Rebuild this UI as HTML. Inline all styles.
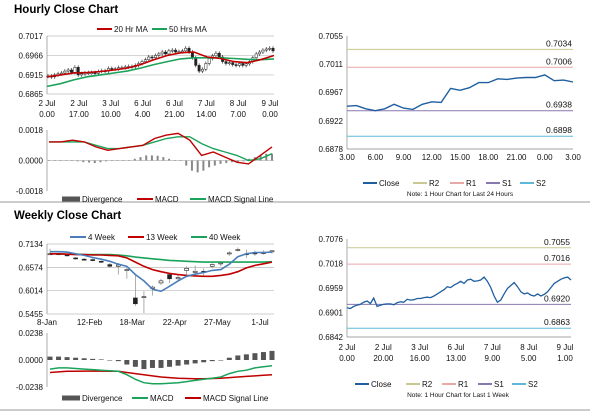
<!DOCTYPE html>
<html><head><meta charset="utf-8"><style>
body{margin:0;background:#fff;font-family:"Liberation Sans",Arial,sans-serif;}
svg text{font-family:"Liberation Sans",Arial,sans-serif;}
</style></head><body>
<svg id="c" width="600" height="413" xmlns="http://www.w3.org/2000/svg">
<text x="14" y="13" font-size="11.5" font-weight="bold" fill="#000">Hourly Close Chart</text>
<text x="14" y="219" font-size="11.5" font-weight="bold" fill="#000">Weekly Close Chart</text>
<line x1="0" y1="202" x2="590" y2="202" stroke="#999" stroke-width="1"/>
<line x1="0" y1="410" x2="590" y2="410" stroke="#999" stroke-width="1"/>
</svg>
<script>
// ---- data ----
const hourlyClose=[0.6912,0.6910,0.6915,0.6918,0.6920,0.6925,0.6928,0.6922,0.6935,0.6915,0.6918,0.6920,0.6921,0.6921,0.6919,0.6924,0.6926,0.6925,0.6932,0.6930,0.6931,0.6934,0.6934,0.6936,0.6937,0.6936,0.6940,0.6945,0.6950,0.6955,0.6962,0.6960,0.6966,0.6970,0.6975,0.6970,0.6978,0.6980,0.6975,0.6976,0.6978,0.6985,0.6975,0.6960,0.6940,0.6925,0.6930,0.6945,0.6958,0.6965,0.6972,0.6962,0.6950,0.6945,0.6947,0.6942,0.6940,0.6945,0.6940,0.6944,0.6950,0.6960,0.6970,0.6975,0.6980,0.6983,0.6985,0.6978];
const hourlyMA20=[0.6910,0.6915,0.6920,0.6921,0.6924,0.6928,0.6933,0.6942,0.6955,0.6966,0.6973,0.6975,0.6962,0.6958,0.6950,0.6947,0.6955,0.6966];
const hourlyMA50=[0.6885,0.6892,0.6902,0.6910,0.6915,0.6920,0.6925,0.6933,0.6942,0.6950,0.6957,0.6960,0.6960,0.6960,0.6958,0.6956,0.6955,0.6957];
const hourlyXLabels=[["2 Jul","0.00"],["2 Jul","17.00"],["3 Jul","10.00"],["6 Jul","4.00"],["6 Jul","21.00"],["7 Jul","14.00"],["8 Jul","7.00"],["9 Jul","0.00"]];
const hourlyTicks=[0.7017,0.6966,0.6915,0.6865];
const hMacd=[0.0011,0.0011,0.0012,0.0011,0.0008,0.0006,0.0007,0.0008,0.0009,0.0013,0.0015,0.0016,0.0012,0.0003,0.0005,0.0002,-0.0001,-0.0002,0.0003,0.0008];
const hSignal=[0.0011,0.0011,0.0011,0.0011,0.0009,0.0007,0.0007,0.0008,0.0009,0.0011,0.0013,0.0014,0.0014,0.0010,0.0007,0.0005,0.0003,0.0000,0.0001,0.0004];
const hDiv=[0.00003,0.00003,0.00003,0.00003,0.00003,-0.00005,-0.0001,-0.00012,-0.00015,-0.0001,-0.00005,0,0,0,0,0.0001,0.0002,0.0003,0.0003,0.00028,0.0002,0.0001,0,0,-0.0003,-0.0006,-0.0007,-0.0006,-0.0004,-0.0003,-0.0002,-0.00015,-0.0001,-0.0001,-0.00005,0.0001,0.0002,0.0003,0.0004,0.0004];
const hMacdTicks=[0.0018,0.0000,-0.0018];
const dayClose=[0.6945,0.6946,0.6941,0.6938,0.6941,0.6948,0.6942,0.6940,0.6948,0.6952,0.6951,0.6973,0.6970,0.6974,0.6982,0.6982,0.6988,0.6987,0.6989,0.6990,0.6990,0.6994,0.6985,0.6986,0.6983];
const dayLevels=[0.7034,0.7006,0.6938,0.6898];
const dayTicks=[0.7055,0.7011,0.6967,0.6922,0.6878];
const dayXLabels=["3.00","6.00","9.00","12.00","15.00","18.00","21.00","0.00","3.00"];
const wkOpen=[0.690,0.690,0.688,0.680,0.677,0.676,0.672,0.664,0.660,0.650,0.584,0.585,0.607,0.620,0.640,0.630,0.650,0.645,0.648,0.660,0.667,0.690,0.698,0.688,0.692,0.693,0.695];
const wkClose=[0.690,0.689,0.685,0.678,0.676,0.675,0.670,0.660,0.663,0.652,0.570,0.587,0.610,0.625,0.630,0.633,0.655,0.648,0.645,0.664,0.668,0.692,0.700,0.690,0.690,0.692,0.697];
const wkHigh=[0.702,0.692,0.690,0.682,0.680,0.679,0.674,0.668,0.668,0.656,0.640,0.600,0.614,0.630,0.645,0.640,0.660,0.662,0.655,0.667,0.671,0.696,0.705,0.700,0.698,0.698,0.699];
const wkLow=[0.688,0.687,0.683,0.676,0.674,0.672,0.668,0.656,0.640,0.630,0.565,0.548,0.590,0.615,0.620,0.625,0.640,0.635,0.637,0.655,0.660,0.685,0.695,0.680,0.685,0.688,0.690];
const wk4=[0.695,0.695,0.694,0.690,0.686,0.681,0.677,0.672,0.665,0.660,0.640,0.625,0.605,0.600,0.612,0.625,0.636,0.641,0.645,0.650,0.652,0.665,0.683,0.690,0.693,0.693,0.694];
const wk13=[0.690,0.690,0.689,0.688,0.688,0.687,0.687,0.686,0.685,0.680,0.670,0.660,0.652,0.647,0.643,0.640,0.638,0.637,0.636,0.636,0.638,0.641,0.647,0.656,0.662,0.666,0.670];
const wk40=[0.690,0.690,0.689,0.689,0.688,0.688,0.688,0.688,0.687,0.685,0.682,0.680,0.678,0.676,0.674,0.673,0.672,0.671,0.670,0.670,0.670,0.670,0.670,0.670,0.670,0.670,0.671];
const wkXLabels=["8-Jan","12-Feb","18-Mar","22-Apr","27-May","1-Jul"];
const wkTicks=[0.7134,0.6574,0.6014,0.5455];
const wDiv=[0.003,0.003,0.0025,0.002,0.0015,0.001,0.0005,0,-0.001,-0.004,-0.006,-0.008,-0.007,-0.007,-0.006,-0.005,-0.004,-0.003,-0.002,-0.001,0,0.002,0.004,0.005,0.006,0.007,0.008];
const wMacd=[-0.008,-0.007,-0.007,-0.0075,-0.008,-0.0085,-0.009,-0.0095,-0.010,-0.013,-0.017,-0.020,-0.021,-0.021,-0.0205,-0.020,-0.019,-0.018,-0.017,-0.016,-0.015,-0.012,-0.010,-0.009,-0.007,-0.006,-0.005];
const wSignal=[-0.011,-0.0105,-0.010,-0.010,-0.0098,-0.0098,-0.0098,-0.010,-0.010,-0.011,-0.012,-0.013,-0.014,-0.015,-0.0155,-0.016,-0.0163,-0.0165,-0.0165,-0.0163,-0.016,-0.0155,-0.015,-0.0145,-0.014,-0.0135,-0.013];
const wMacdTicks=[0.0238,0.0000,-0.0238];
const weekLevels=[0.7055,0.7016,0.6920,0.6863];
const weekTicks=[0.7076,0.7018,0.6959,0.6901,0.6842];
const weekXLabels=[["2 Jul","0.00"],["2 Jul","20.00"],["3 Jul","16.00"],["6 Jul","13.00"],["7 Jul","9.00"],["8 Jul","5.00"],["9 Jul","1.00"]];

// ---- helpers ----
const svg=document.getElementById('c');
const NS='http://www.w3.org/2000/svg';
function mk(tag,attrs,name,parent){const e=document.createElementNS(NS,tag);for(const k in attrs)e.setAttribute(k,attrs[k]);


(parent||svg).appendChild(e);return e;}
function txt(x,y,s,size,anchor,name,fill){const t=mk('text',{x:x,y:y,'font-size':size||8,'text-anchor':anchor||'middle',fill:fill||'#111'},name);t.textContent=s;return t;}
function lin(d0,d1,r0,r1){return v=>r0+(v-d0)/(d1-d0)*(r1-r0);}
function poly(xs,ys,arr,color,w,name){let p=arr.map((v,i)=>xs(i).toFixed(1)+','+ys(v).toFixed(1)).join(' ');return mk('polyline',{points:p,fill:'none',stroke:color,'stroke-width':w||1.5},name);}
function yaxis(x0,x1,ys,ticks,name,grid){ticks.forEach(t=>{const y=ys(t);if(grid)mk('line',{x1:x0,x2:x1,y1:y,y2:y,stroke:'#bbb','stroke-width':0.7},name+'-grid');txt(x0-4,y+3,t.toFixed(4),8,'end',name+'-tick');});mk('line',{x1:x0,x2:x0,y1:ys(ticks[0]),y2:ys(ticks[ticks.length-1]),stroke:'#888','stroke-width':0.7},name+'-axis');}
function legendLine(x,y,color,label,name,w){mk('line',{x1:x,x2:x+(w||16),y1:y,y2:y,stroke:color,'stroke-width':2},name+'-swatch');txt(x+(w||16)+2,y+3,label,8,'start',name);}
function legendBar(x,y,label,name){mk('rect',{x:x,y:y-2.5,width:18,height:5,fill:'#555'},name+'-swatch');txt(x+20,y+3,label,8,'start',name);}

// ---- Hourly candle chart ----
{const ys=lin(0.6865,0.7017,94,36);const xs=lin(0,hourlyClose.length-1,48,273);
yaxis(47,274,ys,hourlyTicks,'hourly-y',true);
hourlyClose.forEach((c,i)=>{const o=i?hourlyClose[i-1]:c;const x=xs(i);const hi=Math.max(o,c),lo=Math.min(o,c);
mk('line',{x1:x,x2:x,y1:ys(hi)-2,y2:ys(lo)+2,stroke:'#333','stroke-width':0.7},'hourly-wick');
mk('rect',{x:x-1.2,y:ys(hi),width:2.4,height:Math.max(1,ys(lo)-ys(hi)),fill:c>=o?'#fff':'#222',stroke:'#222','stroke-width':0.5},'hourly-candle');});
const mx=lin(0,hourlyMA20.length-1,47,274);
poly(mx,ys,hourlyMA50,'#1aa35a',1.6,'ma50-line');poly(mx,ys,hourlyMA20,'#c00000',1.6,'ma20-line');
const lx=lin(0,7,47,270);hourlyXLabels.forEach((l,i)=>{txt(lx(i),106,l[0],8,'middle','hourly-x-label');txt(lx(i),117,l[1],8,'middle','hourly-x-label');});
legendLine(97,29,'#c00000','20 Hr MA','legend-ma20',15);legendLine(152,29,'#1aa35a','50 Hrs MA','legend-ma50',15);
const my=lin(-0.0018,0.0018,191,130);yaxis(47,274,my,hMacdTicks,'hmacd-y',false);
mk('line',{x1:47,x2:274,y1:my(0),y2:my(0),stroke:'#bbb','stroke-width':0.7},'hmacd-zero');
const dx=lin(0,hDiv.length-1,49,272);
hDiv.forEach((v,i)=>{mk('rect',{x:dx(i)-1,y:Math.min(my(0),my(v)),width:2,height:Math.max(0.5,Math.abs(my(v)-my(0))),fill:'#888'},'hmacd-divergence-bar');});
const bx=lin(0,hMacd.length-1,49,272);
poly(bx,my,hSignal,'#1aa35a',1.4,'hmacd-signal-line');poly(bx,my,hMacd,'#c00000',1.4,'hmacd-line');
legendBar(62,199,'Divergence','legend-divergence');legendLine(137,199,'#c00000','MACD','legend-macd',16);legendLine(190,199,'#1aa35a','MACD Signal Line','legend-signal',16);}

// ---- 24h chart ----
{const ys=lin(0.6878,0.7055,149,36);const xs=lin(0,dayClose.length-1,347,573);
yaxis(347,573,ys,dayTicks,'day-y',false);
mk('line',{x1:347,x2:573,y1:149,y2:149,stroke:'#888','stroke-width':0.7},'day-x-axis');
const cols=['#c8c890','#e8a8a8','#8878b0','#60b8d8'];
dayLevels.forEach((l,i)=>{mk('line',{x1:347,x2:573,y1:ys(l),y2:ys(l),stroke:cols[i],'stroke-width':1},'day-level-line');txt(572,ys(l)-3,l.toFixed(4),8.5,'end','day-level-label');});
poly(xs,ys,dayClose,'#1f5f9f',1.4,'day-close-line');
const lx=lin(0,8,347,573);dayXLabels.forEach((l,i)=>txt(lx(i),160,l,8,'middle','day-x-label'));
legendLine(363,183,'#1f5f9f','Close','legend-close',14);legendLine(413,183,cols[0],'R2','legend-r2',14);legendLine(450,183,cols[1],'R1','legend-r1',14);legendLine(486,183,cols[2],'S1','legend-s1',14);legendLine(520,183,cols[3],'S2','legend-s2',14);
txt(460,196,'Note: 1 Hour Chart for Last 24 Hours',6.5,'middle','day-note');}

// ---- Weekly candle chart ----
{const ys=lin(0.5455,0.7134,314,244);const xs=lin(0,wkClose.length-1,50,272);
yaxis(47,274,ys,wkTicks,'weekly-y',true);
wkClose.forEach((c,i)=>{const o=wkOpen[i];const x=xs(i);
mk('line',{x1:x,x2:x,y1:ys(wkHigh[i]),y2:ys(wkLow[i]),stroke:'#999','stroke-width':0.8},'weekly-wick');
const hi=Math.max(o,c),lo=Math.min(o,c);
mk('rect',{x:x-2,y:ys(hi),width:4,height:Math.max(1,ys(lo)-ys(hi)),fill:c>=o?'#fff':'#222',stroke:'#222','stroke-width':0.6},'weekly-candle');});
poly(xs,ys,wk40,'#1aa35a',1.6,'wk40-line');poly(xs,ys,wk13,'#c00000',1.6,'wk13-line');poly(xs,ys,wk4,'#4a7ebb',1.6,'wk4-line');
const lx=lin(0,5,47,260);wkXLabels.forEach((l,i)=>txt(lx(i),325,l,8,'middle','weekly-x-label'));
legendLine(70,237,'#4a7ebb','4 Week','legend-4week',16);legendLine(128,237,'#c00000','13 Week','legend-13week',16);legendLine(191,237,'#1aa35a','40 Week','legend-40week',16);
const my=lin(-0.0238,0.0238,387,333);yaxis(47,274,my,wMacdTicks,'wmacd-y',false);
wDiv.forEach((v,i)=>{mk('rect',{x:xs(i)-2.5,y:Math.min(my(0),my(v)),width:5,height:Math.max(0.5,Math.abs(my(v)-my(0))),fill:'#555'},'wmacd-divergence-bar');});
poly(xs,my,wSignal,'#c00000',1.5,'wmacd-signal-line');poly(xs,my,wMacd,'#1aa35a',1.5,'wmacd-line');
legendBar(62,398,'Divergence','legend-w-divergence');legendLine(132,398,'#1aa35a','MACD','legend-w-macd',16);legendLine(185,398,'#c00000','MACD Signal Line','legend-w-signal',16);}

// ---- 1 week hourly line ----
{const ys=lin(0.6842,0.7076,337,239);const xs=lin(0,hourlyClose.length-1,347,571);
yaxis(347,571,ys,weekTicks,'week-y',false);
mk('line',{x1:347,x2:571,y1:337,y2:337,stroke:'#888','stroke-width':0.7},'week-x-axis');
const cols=['#c8c890','#e8a8a8','#8878b0','#60b8d8'];
weekLevels.forEach((l,i)=>{mk('line',{x1:347,x2:571,y1:ys(l),y2:ys(l),stroke:cols[i],'stroke-width':1},'week-level-line');txt(570,ys(l)-3,l.toFixed(4),8.5,'end','week-level-label');});
poly(xs,ys,hourlyClose,'#1f5f9f',1.3,'week-close-line');
const lx=lin(0,6,347,565);weekXLabels.forEach((l,i)=>{txt(lx(i),350,l[0],8,'middle','week-x-label');txt(lx(i),361,l[1],8,'middle','week-x-label');});
legendLine(355,384,'#1f5f9f','Close','legend-w-close',14);legendLine(406,384,cols[0],'R2','legend-w-r2',14);legendLine(442,384,cols[1],'R1','legend-w-r1',14);legendLine(478,384,cols[2],'S1','legend-w-s1',14);legendLine(512,384,cols[3],'S2','legend-w-s2',14);
txt(458,397,'Note: 1 Hour Chart for Last 1 Week',6.5,'middle','week-note');}
</script>
</body></html>
